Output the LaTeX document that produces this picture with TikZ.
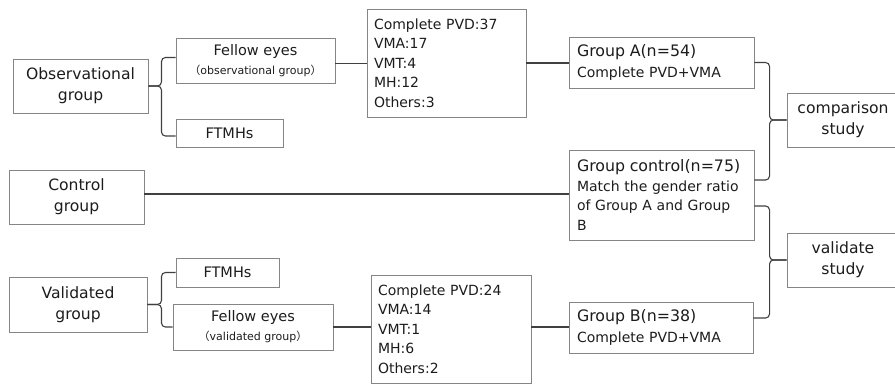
\documentclass[tikz,border=0pt]{standalone}
\usepackage{fontspec}
\setmainfont{DejaVu Sans}
\newfontfamily\cjkfont{Noto Sans CJK SC}
\usetikzlibrary{calc}
\definecolor{boxc}{HTML}{858585}
\definecolor{linec}{HTML}{404040}
\definecolor{txtc}{HTML}{1C1C1C}
\tikzset{
  box/.style={draw=boxc, line width=0.9pt, inner sep=0pt, text=txtc, align=center},
  bigtext/.style={font=\fontsize{15.6}{21}\selectfont},
  grpbox/.style={box, align=left, font=\fontsize{14}{20.5}\selectfont},
  conn/.style={draw=linec, line width=1.1pt},
  brc/.style={draw=linec, line width=1.1pt, rounded corners=4pt},
}
\newcommand{\lp}{{\cjkfont （}}
\newcommand{\rp}{{\cjkfont ）}}
\newcommand{\ttl}[1]{{\fontsize{15.8}{20.5}\selectfont #1}}
\begin{document}
\begin{tikzpicture}[x=1pt,y=-1pt]
\useasboundingbox (0,0) rectangle (895,384);
\clip (0,0) rectangle (895,384);
% left column
\node[box, bigtext, minimum width=135pt, minimum height=54pt] (obs) at (80.5,86) {Observational\\group};
\node[box, bigtext, minimum width=135pt, minimum height=54pt] (ctl) at (76.5,197) {Control\\group};
\node[box, bigtext, minimum width=138pt, minimum height=55pt] (vg) at (78,304.5) {Validated\\group};
% second column
\node[box, minimum width=159pt, minimum height=45pt, font=\fontsize{14.5}{19}\selectfont] (fe1) at (255.5,60.5) {Fellow eyes\\{\fontsize{11}{14}\selectfont \lp observational group\rp}};
\node[box, minimum width=107pt, minimum height=28pt, font=\fontsize{14.5}{16}\selectfont] (ft1) at (229.5,133) {FTMHs};
\node[box, minimum width=103pt, minimum height=29pt, font=\fontsize{14.5}{16}\selectfont] (ft2) at (227.5,272.5) {FTMHs};
\node[box, minimum width=160pt, minimum height=46pt, font=\fontsize{14.5}{19}\selectfont] (fe2) at (253,327) {Fellow eyes\\{\fontsize{11}{14}\selectfont \lp validated group\rp}};
% stats
\node[box, minimum width=159pt, minimum height=108pt, align=left, text width=145pt, font=\fontsize{14}{19.6}\selectfont] (s1) at (446.5,63) {Complete PVD:37\\VMA:17\\VMT:4\\MH:12\\Others:3};
\node[box, minimum width=160pt, minimum height=108pt, align=left, text width=146pt, font=\fontsize{14}{19.6}\selectfont] (s2) at (451,329) {Complete PVD:24\\VMA:14\\VMT:1\\MH:6\\Others:2};
% groups
\node[grpbox, minimum width=185pt, minimum height=51pt, text width=169pt] (grpA) at (661.5,62.5) {\ttl{Group A(n=54)}\\Complete PVD+VMA};
\node[grpbox, minimum width=185pt, minimum height=90pt, text width=169pt, font=\fontsize{14}{19.8}\selectfont] (grpC) at (661.5,195) {\ttl{Group control(n=75)}\\Match the gender ratio\\of Group A and Group\\B};
\node[grpbox, minimum width=184pt, minimum height=51pt, text width=168pt] (grpB) at (661,327.5) {\ttl{Group B(n=38)}\\Complete PVD+VMA};
% studies
\node[box, bigtext, minimum width=112pt, minimum height=54pt] (comp) at (843,120) {comparison\\study};
\node[box, bigtext, minimum width=112pt, minimum height=54pt] (val) at (843,260) {validate\\study};
% connectors
\draw[brc] (obs.east) -- ++(13,0) |- ([yshift=3pt]fe1.west);
\draw[brc] (obs.east) -- ++(13,0) |- ([yshift=-3pt]ft1.west);
\draw[brc] (vg.east) -- ++(14,0) |- (ft2.west);
\draw[brc] (vg.east) -- ++(14,0) |- (fe2.west);
\draw[conn] ([yshift=-3pt]fe1.east) -- ([yshift=-3pt]fe1.east -| s1.west);
\draw[conn] (s1.east) -- (s1.east -| grpA.west);
\draw[conn] ([yshift=3pt]ctl.east) -- ([yshift=3pt]ctl.east -| grpC.west);
\draw[conn] (fe2.east) -- (fe2.east -| s2.west);
\draw[conn] ([yshift=2pt]s2.east) -- ([yshift=2pt]s2.east -| grpB.west);
\draw[brc] (comp.west) -- ++(-17,0) |- (grpA.east);
\draw[brc] (comp.west) -- ++(-17,0) |- ([yshift=15pt]grpC.east);
\draw[brc] (val.west) -- ++(-17,0) |- ([yshift=-11pt]grpC.east);
\draw[brc] (val.west) -- ++(-17,0) |- ([yshift=9.5pt]grpB.east);
\end{tikzpicture}
\end{document}
